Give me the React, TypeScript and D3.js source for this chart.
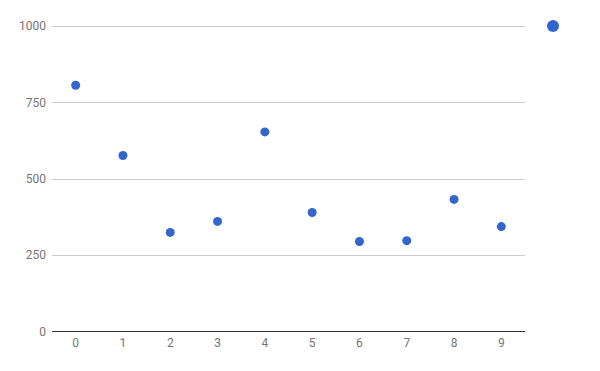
import React from "react";
import * as d3 from "d3";

const categories = [0, 1, 2, 3, 4, 5, 6, 7, 8, 9];
const values = [806, 576, 324, 360, 653, 389, 294, 297, 432, 343];
const yTicks = [0, 250, 500, 750, 1000];

export default function App() {
  const W = 600, H = 371;
  const left = 52, right = 525, top = 26, bottom = 331.3;
  const x = d3.scaleLinear().domain([-0.5, 9.5]).range([left, right]);
  const y = d3.scaleLinear().domain([0, 1000]).range([bottom, top]);
  const font = "Roboto, Arial, sans-serif";
  return (
    <svg width={W} height={H} style={{ position: "absolute", left: 0, top: 0, background: "#fff" }}>
      {yTicks.map((t) => (
        <g key={t}>
          {t !== 0 && (
            <line x1={left} x2={right} y1={Math.round(y(t)) + 0.5} y2={Math.round(y(t)) + 0.5} stroke="#cccccc" strokeWidth={1} />
          )}
          <text x={46} y={y(t)} dy="0.35em" textAnchor="end" fontFamily={font} fontSize={12} fill="#757575">
            {t}
          </text>
        </g>
      ))}
      <line x1={left} x2={right} y1={Math.round(y(0)) + 0.5} y2={Math.round(y(0)) + 0.5} stroke="#333333" strokeWidth={1} />
      {categories.map((c) => (
        <text key={c} x={x(c)} y={347} textAnchor="middle" fontFamily={font} fontSize={12} fill="#757575">
          {c}
        </text>
      ))}
      {categories.map((c, i) => (
        <circle key={c} cx={x(c)} cy={y(values[i])} r={4.5} fill="#3366cc" />
      ))}
      <circle cx={553} cy={26} r={6} fill="#3366cc" />
    </svg>
  );
}
